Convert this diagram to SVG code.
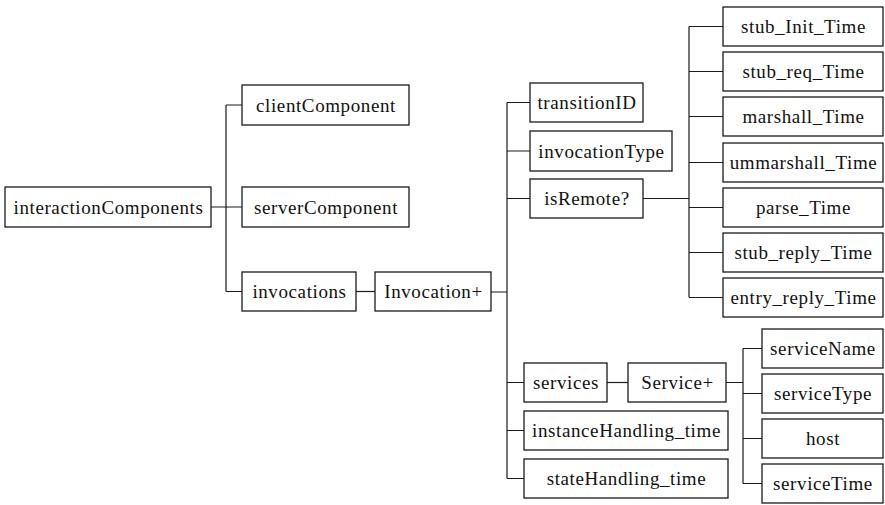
<svg xmlns="http://www.w3.org/2000/svg" width="885" height="505" viewBox="0 0 885 505">
  <style>
    .box rect { fill: #ffffff; stroke: #1a1a1a; stroke-width: 1.3; }
    .box text { font-family: "Liberation Serif", "Times New Roman", serif; font-size: 19px; letter-spacing: 0.6px; fill: #111111; text-anchor: middle; }
    #connectors path { fill: none; stroke: #1a1a1a; stroke-width: 1.2; }
  </style>
  <rect width="885" height="505" fill="#ffffff"/>

  <!-- tree connectors -->
  <g id="connectors">
    <path d="M211,207 H226 M226,105 V291.5 M226,105 H242 M226,207 H242 M226,291.5 H242"/>
    <path d="M356,291.5 H375"/>
    <path d="M491,292 H507 M507,102.5 V478.5 M507,102.5 H530 M507,151 H530 M507,198.5 H530 M507,382.5 H524 M507,430.5 H524 M507,478.5 H524"/>
    <path d="M643,198.5 H689 M689,26.5 V297.5 M689,26.5 H723 M689,71.5 H723 M689,116.5 H723 M689,162.5 H723 M689,207.5 H723 M689,252.5 H723 M689,297.5 H723"/>
    <path d="M607,382.5 H628"/>
    <path d="M726,382.5 H743 M743,348.5 V483.5 M743,348.5 H762 M743,393.5 H762 M743,438.5 H762 M743,483.5 H762"/>
  </g>

  <!-- root -->
  <g id="interactionComponents" class="box"><rect x="5" y="187" width="206" height="40"/><text x="108.5" y="213.5">interactionComponents</text></g>
  <g id="clientComponent" class="box"><rect x="242" y="85" width="167" height="40"/><text x="326" y="111.5">clientComponent</text></g>
  <g id="serverComponent" class="box"><rect x="242" y="187" width="167" height="40"/><text x="326" y="213.5">serverComponent</text></g>
  <g id="invocations" class="box"><rect x="242" y="272" width="114" height="39"/><text x="299.5" y="298">invocations</text></g>
  <g id="invocation" class="box"><rect x="375" y="272" width="116" height="39"/><text x="433.5" y="298">Invocation+</text></g>

  <!-- invocation attributes -->
  <g id="transitionID" class="box"><rect x="530" y="83" width="113" height="39"/><text x="587" y="109">transitionID</text></g>
  <g id="invocationType" class="box"><rect x="530" y="131" width="142" height="40"/><text x="601.5" y="157.5">invocationType</text></g>
  <g id="isRemote" class="box"><rect x="530" y="179" width="113" height="39"/><text x="587" y="205">isRemote?</text></g>

  <!-- remote timing -->
  <g id="stub_Init_Time" class="box"><rect x="723" y="7" width="160" height="39"/><text x="803.5" y="33">stub_Init_Time</text></g>
  <g id="stub_req_Time" class="box"><rect x="723" y="52" width="160" height="39"/><text x="803.5" y="78">stub_req_Time</text></g>
  <g id="marshall_Time" class="box"><rect x="723" y="97" width="160" height="39"/><text x="803.5" y="123">marshall_Time</text></g>
  <g id="ummarshall_Time" class="box"><rect x="723" y="143" width="160" height="39"/><text x="803.5" y="169">ummarshall_Time</text></g>
  <g id="parse_Time" class="box"><rect x="723" y="188" width="160" height="39"/><text x="803.5" y="214">parse_Time</text></g>
  <g id="stub_reply_Time" class="box"><rect x="723" y="233" width="160" height="39"/><text x="803.5" y="259">stub_reply_Time</text></g>
  <g id="entry_reply_Time" class="box"><rect x="723" y="278" width="160" height="39"/><text x="803.5" y="304">entry_reply_Time</text></g>

  <!-- services -->
  <g id="services" class="box"><rect x="524" y="363" width="83" height="39"/><text x="566" y="389">services</text></g>
  <g id="service" class="box"><rect x="628" y="363" width="98" height="39"/><text x="677.5" y="389">Service+</text></g>
  <g id="instanceHandling_time" class="box"><rect x="524" y="411" width="204" height="39"/><text x="626.5" y="437">instanceHandling_time</text></g>
  <g id="stateHandling_time" class="box"><rect x="524" y="459" width="204" height="39"/><text x="626.5" y="485">stateHandling_time</text></g>

  <g id="serviceName" class="box"><rect x="762" y="329" width="121" height="39"/><text x="823" y="355">serviceName</text></g>
  <g id="serviceType" class="box"><rect x="762" y="374" width="121" height="39"/><text x="823" y="400">serviceType</text></g>
  <g id="host" class="box"><rect x="762" y="419" width="121" height="39"/><text x="823" y="445">host</text></g>
  <g id="serviceTime" class="box"><rect x="762" y="464" width="121" height="39"/><text x="823" y="490">serviceTime</text></g>
</svg>
